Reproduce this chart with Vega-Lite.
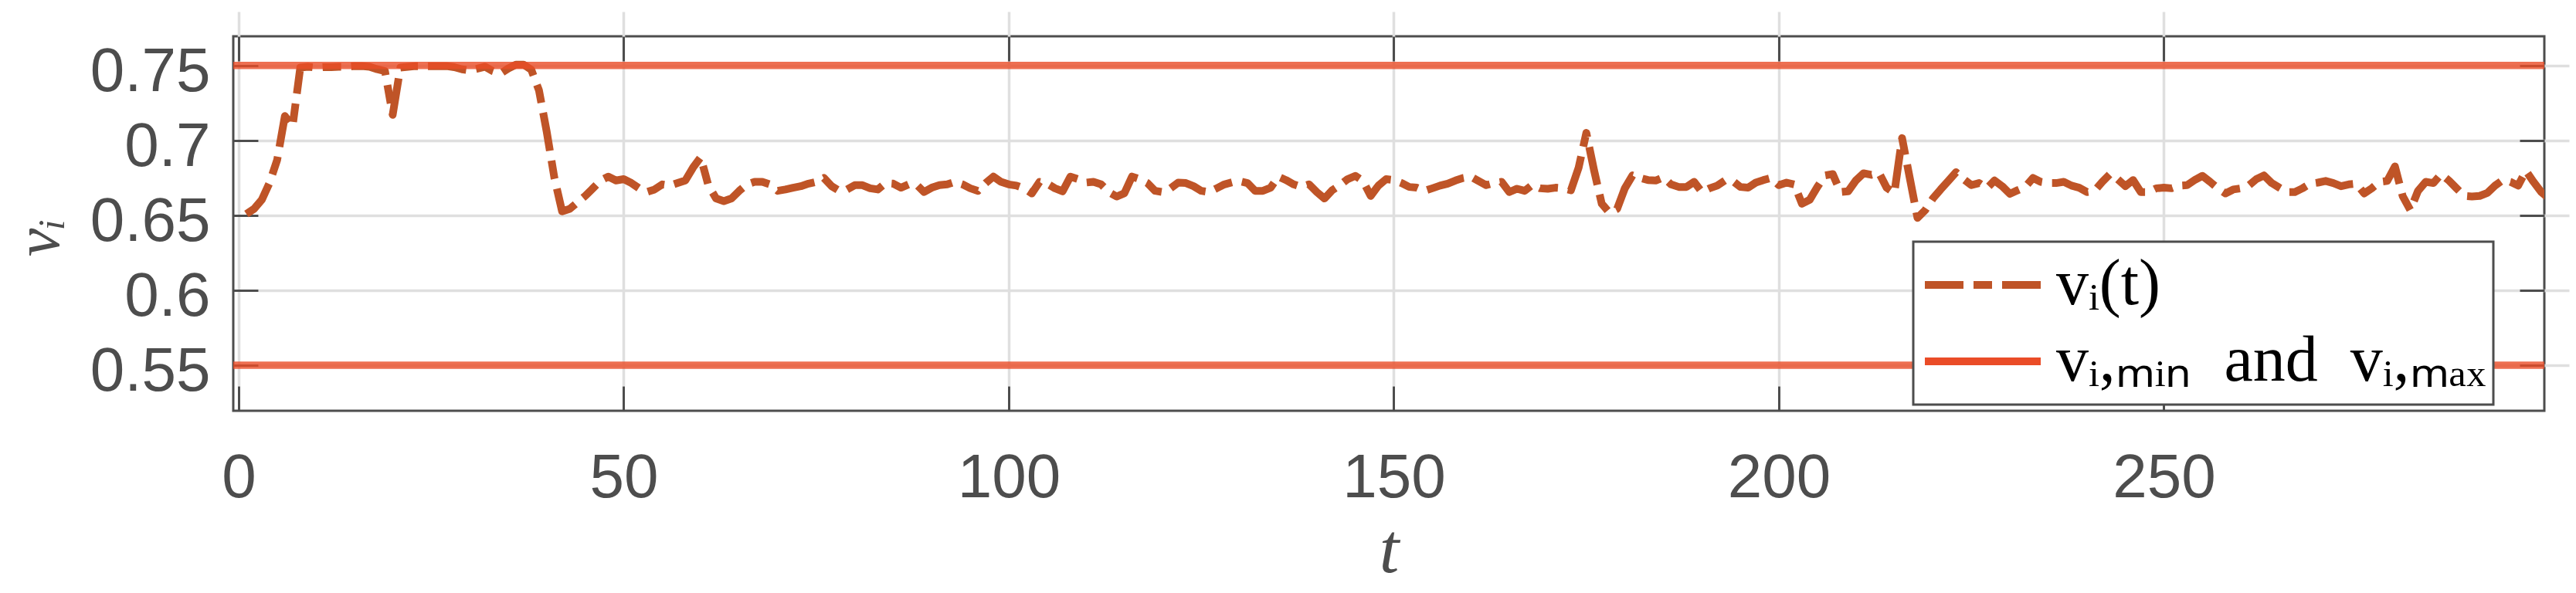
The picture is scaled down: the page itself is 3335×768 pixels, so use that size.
{
  "$schema": "https://vega.github.io/schema/vega-lite/v6.json",
  "width": 2992,
  "height": 485,
  "autosize": {"type": "none"},
  "padding": {"left": 302, "top": 47, "right": 41, "bottom": 236},
  "background": "white",
  "config": {
    "view": {"stroke": "#4D4D4D", "strokeWidth": 3},
    "axis": {
      "labelFont": "Liberation Sans",
      "labelFontSize": 80,
      "labelColor": "#4D4D4D",
      "titleFont": "Liberation Serif",
      "titleFontStyle": "italic",
      "titleFontWeight": "normal",
      "titleFontSize": 92,
      "titleColor": "#4D4D4D",
      "domain": false,
      "tickColor": "#4D4D4D",
      "tickWidth": 3,
      "tickSize": 32,
      "offset": -32,
      "gridColor": "#DFDFDF",
      "gridWidth": 3.5
    }
  },
  "datasets": {
    "series": [
      {"t":1,"v":0.6509},{"t":2,"v":0.6543},{"t":3,"v":0.6603},{"t":4,"v":0.6715},{"t":5,"v":0.6869},
      {"t":6,"v":0.7162},{"t":7,"v":0.7093},{"t":8,"v":0.7485},{"t":9,"v":0.7491},{"t":10,"v":0.7485},
      {"t":11,"v":0.7488},{"t":12,"v":0.7488},{"t":13,"v":0.7491},{"t":14,"v":0.7491},{"t":15,"v":0.7495},
      {"t":16,"v":0.7495},{"t":17,"v":0.7491},{"t":18,"v":0.7474},{"t":19,"v":0.7462},{"t":20,"v":0.717},
      {"t":21,"v":0.7485},{"t":22,"v":0.7491},{"t":23,"v":0.7495},{"t":24,"v":0.7495},{"t":25,"v":0.7495},
      {"t":26,"v":0.7495},{"t":27,"v":0.7495},{"t":28,"v":0.7488},{"t":29,"v":0.7474},{"t":30,"v":0.7467},
      {"t":31,"v":0.7478},{"t":32,"v":0.7491},{"t":33,"v":0.7462},{"t":34,"v":0.7445},{"t":35,"v":0.7479},
      {"t":36,"v":0.7505},{"t":37,"v":0.7505},{"t":38,"v":0.7471},{"t":39,"v":0.7333},{"t":40,"v":0.7058},
      {"t":41,"v":0.6749},{"t":42,"v":0.6526},{"t":43,"v":0.6543},{"t":44,"v":0.6586},{"t":45,"v":0.6629},
      {"t":46,"v":0.668},{"t":47,"v":0.6732},{"t":48,"v":0.6758},{"t":49,"v":0.6732},{"t":50,"v":0.6741},
      {"t":51,"v":0.6715},{"t":52,"v":0.668},{"t":53,"v":0.6655},{"t":54,"v":0.6672},{"t":55,"v":0.6706},
      {"t":56,"v":0.6698},{"t":57,"v":0.6715},{"t":58,"v":0.6732},{"t":59,"v":0.6818},{"t":60,"v":0.6887},
      {"t":61,"v":0.6698},{"t":62,"v":0.6612},{"t":63,"v":0.6594},{"t":64,"v":0.6612},{"t":65,"v":0.6663},
      {"t":66,"v":0.6706},{"t":67,"v":0.6723},{"t":68,"v":0.6723},{"t":69,"v":0.6706},{"t":70,"v":0.6663},
      {"t":71,"v":0.6672},{"t":72,"v":0.6684},{"t":73,"v":0.6694},{"t":74,"v":0.6711},{"t":75,"v":0.6723},
      {"t":76,"v":0.6749},{"t":77,"v":0.6694},{"t":78,"v":0.6663},{"t":79,"v":0.6672},{"t":80,"v":0.6701},
      {"t":81,"v":0.6701},{"t":82,"v":0.668},{"t":83,"v":0.6672},{"t":84,"v":0.6715},{"t":85,"v":0.6711},
      {"t":86,"v":0.6684},{"t":87,"v":0.6706},{"t":88,"v":0.6706},{"t":89,"v":0.6655},{"t":90,"v":0.6684},
      {"t":91,"v":0.6701},{"t":92,"v":0.6706},{"t":93,"v":0.6723},{"t":94,"v":0.6706},{"t":95,"v":0.668},
      {"t":96,"v":0.6663},{"t":97,"v":0.6715},{"t":98,"v":0.6758},{"t":99,"v":0.6723},{"t":100,"v":0.6706},
      {"t":101,"v":0.6698},{"t":102,"v":0.668},{"t":103,"v":0.6646},{"t":104,"v":0.6723},{"t":105,"v":0.6711},
      {"t":106,"v":0.668},{"t":107,"v":0.666},{"t":108,"v":0.6758},{"t":109,"v":0.6741},{"t":110,"v":0.6718},
      {"t":111,"v":0.6723},{"t":112,"v":0.6706},{"t":113,"v":0.6655},{"t":114,"v":0.6625},{"t":115,"v":0.6646},
      {"t":116,"v":0.6758},{"t":117,"v":0.6741},{"t":118,"v":0.6715},{"t":119,"v":0.6663},{"t":120,"v":0.6655},
      {"t":121,"v":0.668},{"t":122,"v":0.6718},{"t":123,"v":0.6715},{"t":124,"v":0.6694},{"t":125,"v":0.6663},
      {"t":126,"v":0.6655},{"t":127,"v":0.668},{"t":128,"v":0.6706},{"t":129,"v":0.672},{"t":130,"v":0.6727},
      {"t":131,"v":0.6715},{"t":132,"v":0.6663},{"t":133,"v":0.6663},{"t":134,"v":0.6684},{"t":135,"v":0.6758},
      {"t":136,"v":0.6735},{"t":137,"v":0.6706},{"t":138,"v":0.6689},{"t":139,"v":0.6706},{"t":140,"v":0.6655},
      {"t":141,"v":0.6612},{"t":142,"v":0.6667},{"t":143,"v":0.6701},{"t":144,"v":0.6741},{"t":145,"v":0.6763},
      {"t":146,"v":0.6729},{"t":147,"v":0.6629},{"t":148,"v":0.6698},{"t":149,"v":0.6741},{"t":150,"v":0.6735},
      {"t":151,"v":0.6715},{"t":152,"v":0.6689},{"t":153,"v":0.6684},{"t":154,"v":0.6663},{"t":155,"v":0.668},
      {"t":156,"v":0.6698},{"t":157,"v":0.6711},{"t":158,"v":0.6732},{"t":159,"v":0.6749},{"t":160,"v":0.6758},
      {"t":161,"v":0.6729},{"t":162,"v":0.6701},{"t":163,"v":0.6715},{"t":164,"v":0.6723},{"t":165,"v":0.6655},
      {"t":166,"v":0.6677},{"t":167,"v":0.6663},{"t":168,"v":0.6703},{"t":169,"v":0.668},{"t":170,"v":0.6677},
      {"t":171,"v":0.6684},{"t":172,"v":0.668},{"t":173,"v":0.6667},{"t":174,"v":0.6818},{"t":175,"v":0.705},
      {"t":176,"v":0.6801},{"t":177,"v":0.6577},{"t":178,"v":0.6517},{"t":179,"v":0.6543},{"t":180,"v":0.668},
      {"t":181,"v":0.6766},{"t":182,"v":0.6749},{"t":183,"v":0.6735},{"t":184,"v":0.6732},{"t":185,"v":0.6753},
      {"t":186,"v":0.6706},{"t":187,"v":0.6689},{"t":188,"v":0.6689},{"t":189,"v":0.6723},{"t":190,"v":0.6655},
      {"t":191,"v":0.668},{"t":192,"v":0.6698},{"t":193,"v":0.6732},{"t":194,"v":0.6729},{"t":195,"v":0.6689},
      {"t":196,"v":0.6684},{"t":197,"v":0.6718},{"t":198,"v":0.6735},{"t":199,"v":0.6749},{"t":200,"v":0.6701},
      {"t":201,"v":0.6718},{"t":202,"v":0.6706},{"t":203,"v":0.6577},{"t":204,"v":0.6603},{"t":205,"v":0.6689},
      {"t":206,"v":0.6766},{"t":207,"v":0.6775},{"t":208,"v":0.6655},{"t":209,"v":0.666},{"t":210,"v":0.6732},
      {"t":211,"v":0.678},{"t":212,"v":0.677},{"t":213,"v":0.6784},{"t":214,"v":0.6684},{"t":215,"v":0.6649},
      {"t":216,"v":0.7015},{"t":217,"v":0.6749},{"t":218,"v":0.6483},{"t":219,"v":0.6534},{"t":220,"v":0.6612},
      {"t":221,"v":0.6672},{"t":222,"v":0.6729},{"t":223,"v":0.6787},{"t":224,"v":0.6741},{"t":225,"v":0.6701},
      {"t":226,"v":0.6715},{"t":227,"v":0.668},{"t":228,"v":0.6732},{"t":229,"v":0.6694},{"t":230,"v":0.6643},
      {"t":231,"v":0.6667},{"t":232,"v":0.6689},{"t":233,"v":0.6749},{"t":234,"v":0.6723},{"t":235,"v":0.6715},
      {"t":236,"v":0.6715},{"t":237,"v":0.6723},{"t":238,"v":0.6698},{"t":239,"v":0.6684},{"t":240,"v":0.6655},
      {"t":241,"v":0.6663},{"t":242,"v":0.6723},{"t":243,"v":0.6775},{"t":244,"v":0.6741},{"t":245,"v":0.6694},
      {"t":246,"v":0.6735},{"t":247,"v":0.6655},{"t":248,"v":0.6655},{"t":249,"v":0.668},{"t":250,"v":0.6684},
      {"t":251,"v":0.668},{"t":252,"v":0.6698},{"t":253,"v":0.6701},{"t":254,"v":0.6735},{"t":255,"v":0.6763},
      {"t":256,"v":0.6723},{"t":257,"v":0.668},{"t":258,"v":0.6646},{"t":259,"v":0.6672},{"t":260,"v":0.668},
      {"t":261,"v":0.6698},{"t":262,"v":0.6741},{"t":263,"v":0.6766},{"t":264,"v":0.6715},{"t":265,"v":0.6684},
      {"t":266,"v":0.6655},{"t":267,"v":0.6655},{"t":268,"v":0.668},{"t":269,"v":0.6711},{"t":270,"v":0.6718},
      {"t":271,"v":0.6729},{"t":272,"v":0.6715},{"t":273,"v":0.6694},{"t":274,"v":0.6706},{"t":275,"v":0.6711},
      {"t":276,"v":0.6646},{"t":277,"v":0.668},{"t":278,"v":0.6723},{"t":279,"v":0.6729},{"t":280,"v":0.6826},
      {"t":281,"v":0.6629},{"t":282,"v":0.6534},{"t":283,"v":0.6663},{"t":284,"v":0.6723},{"t":285,"v":0.6715},
      {"t":286,"v":0.6775},{"t":287,"v":0.6732},{"t":288,"v":0.668},{"t":289,"v":0.6629},{"t":290,"v":0.6625},
      {"t":291,"v":0.6629},{"t":292,"v":0.6649},{"t":293,"v":0.6698},{"t":294,"v":0.6735},{"t":295,"v":0.6723},
      {"t":296,"v":0.6698},{"t":297,"v":0.6797},{"t":298,"v":0.6723},{"t":299,"v":0.6655},{"t":300,"v":0.6612}
    ],
    "bounds": [
      {"v": 0.55, "s": "vᵢ,ₘᵢₙ and vᵢ,ₘₐₓ"},
      {"v": 0.75, "s": "vᵢ,ₘᵢₙ and vᵢ,ₘₐₓ"}
    ]
  },
  "resolve": {"axis": {"x": "independent", "y": "independent"}},
  "layer": [
    {
      "data": {"name": "series"},
      "transform": [{"calculate": "'vᵢ(t)'", "as": "s"}],
      "mark": {"type": "line", "strokeWidth": 10, "clip": true, "strokeCap": "butt", "strokeJoin": "round"},
      "encoding": {
        "x": {
          "field": "t", "type": "quantitative",
          "scale": {"domain": [-0.7, 299.4], "nice": false, "zero": false},
          "axis": {
            "orient": "bottom", "values": [0, 50, 100, 150, 200, 250], "grid": true,
            "labelBaseline": "alphabetic", "labelPadding": 111,
            "title": "t", "titleBaseline": "alphabetic", "titleY": 240
          }
        },
        "y": {
          "field": "v", "type": "quantitative",
          "scale": {"domain": [0.5196, 0.7694], "nice": false, "zero": false},
          "axis": {
            "orient": "left", "values": [0.55, 0.6, 0.65, 0.7, 0.75], "grid": true, "format": "~g",
            "labelPadding": 30, "labelBaseline": "middle", "labelOffset": 9,
            "title": "vᵢ", "titleFontSize": 82, "titleAngle": 270, "titleBaseline": "alphabetic", "titleAlign": "center",
            "titleX": -259, "titleY": 260
          }
        },
        "color": {
          "field": "s", "type": "nominal",
          "scale": {"domain": ["vᵢ(t)", "vᵢ,ₘᵢₙ and vᵢ,ₘₐₓ"], "range": ["#BF5427", "#EA4C27"]},
          "legend": {
            "title": null, "orient": "none", "legendX": 2175, "legendY": 266,
            "padding": 10, "fillColor": "white", "strokeColor": "#4D4D4D",
            "symbolType": "stroke", "symbolSize": 22500, "symbolStrokeWidth": 10,
            "clipHeight": 92, "rowPadding": 7, "labelOffset": 15,
            "labelFont": "Liberation Serif", "labelFontSize": 84, "labelColor": "black", "labelLimit": 0,
            "labelExpr": "replace(datum.label, ' and ', '\u2002and\u2002')",
            "encode": {"legend": {"update": {"strokeWidth": {"value": 3}}}}
          }
        },
        "strokeDash": {
          "field": "s", "type": "nominal",
          "scale": {"domain": ["vᵢ(t)", "vᵢ,ₘᵢₙ and vᵢ,ₘₐₓ"], "range": [[50, 13, 24, 13], [1, 0]]},
          "legend": {
            "title": null, "orient": "none", "legendX": 2175, "legendY": 266,
            "padding": 10, "fillColor": "white", "strokeColor": "#4D4D4D",
            "symbolType": "stroke", "symbolSize": 22500, "symbolStrokeWidth": 10,
            "clipHeight": 92, "rowPadding": 7, "labelOffset": 15,
            "labelFont": "Liberation Serif", "labelFontSize": 84, "labelColor": "black", "labelLimit": 0,
            "labelExpr": "replace(datum.label, ' and ', '\u2002and\u2002')",
            "encode": {"legend": {"update": {"strokeWidth": {"value": 3}}}}
          }
        }
      }
    },
    {
      "data": {"name": "bounds"},
      "mark": {"type": "rule", "strokeWidth": 9.5, "opacity": 0.8},
      "encoding": {
        "y": {
          "field": "v", "type": "quantitative",
          "axis": {"orient": "right", "values": [0.55, 0.6, 0.65, 0.7, 0.75], "labels": false, "grid": false, "title": null}
        },
        "color": {"field": "s", "type": "nominal"},
        "strokeDash": {"field": "s", "type": "nominal"}
      }
    },
    {
      "data": {"name": "series"},
      "mark": {"type": "line", "opacity": 0, "clip": true},
      "encoding": {
        "x": {
          "field": "t", "type": "quantitative",
          "axis": {"orient": "top", "values": [0, 50, 100, 150, 200, 250], "labels": false, "grid": false, "title": null}
        },
        "y": {"field": "v", "type": "quantitative", "axis": null}
      }
    }
  ]
}
